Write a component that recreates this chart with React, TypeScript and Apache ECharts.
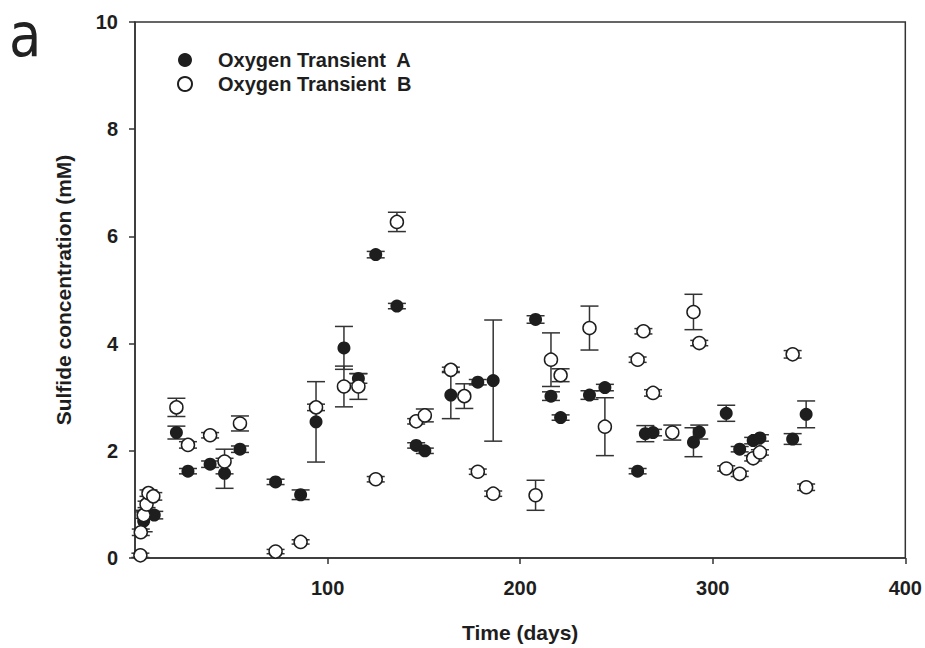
import React, { useEffect, useRef } from "react";
import * as echarts from "echarts";

// Oxygen Transient A (filled)
const daysA = [4.5, 10, 21.5, 27.5, 39, 46.5, 54.5, 73, 86, 94, 108.5, 116, 125, 136, 146, 150.5, 164, 178, 186, 208, 216, 221, 236, 244, 261, 265, 269, 290, 293, 307, 314, 321, 324.5, 341.5, 348.5];
const sulfideA = [0.69, 0.8, 2.34, 1.62, 1.75, 1.58, 2.03, 1.42, 1.18, 2.54, 3.92, 3.35, 5.66, 4.7, 2.1, 2.0, 3.04, 3.28, 3.31, 4.45, 3.02, 2.62, 3.04, 3.18, 1.62, 2.32, 2.34, 2.16, 2.35, 2.7, 2.03, 2.19, 2.24, 2.22, 2.68];
const errA = [0.2, 0.07, 0.12, 0.05, 0.06, 0.28, 0.06, 0.05, 0.09, 0.75, 0.4, 0.09, 0.06, 0.05, 0.05, 0.05, 0.44, 0.05, 1.13, 0.07, 0.08, 0.05, 0.08, 0.06, 0.05, 0.15, 0.06, 0.27, 0.13, 0.15, 0.05, 0.06, 0.06, 0.1, 0.25];

// Oxygen Transient B (open)
const daysB = [2.8, 3, 4.5, 6, 7, 9.5, 21.5, 27.5, 39, 46.5, 54.5, 73, 86, 94, 108.5, 116, 125, 136, 146, 150.5, 164, 171, 178, 186, 208, 216, 221, 236, 244, 261, 264, 269, 279, 290, 293, 307, 314, 321, 324.5, 341.5, 348.5];
const sulfideB = [0.05, 0.48, 0.8, 1.0, 1.21, 1.15, 2.81, 2.11, 2.29, 1.8, 2.51, 0.12, 0.3, 2.81, 3.2, 3.2, 1.47, 6.27, 2.55, 2.66, 3.51, 3.02, 1.61, 1.2, 1.17, 3.7, 3.41, 4.29, 2.45, 3.7, 4.23, 3.08, 2.34, 4.59, 4.01, 1.67, 1.57, 1.86, 1.97, 3.8, 1.32];
const errB = [0.04, 0.06, 0.06, 0.06, 0.06, 0.07, 0.17, 0.06, 0.05, 0.23, 0.14, 0.04, 0.04, 0.06, 0.38, 0.24, 0.05, 0.18, 0.05, 0.12, 0.05, 0.23, 0.05, 0.05, 0.28, 0.5, 0.12, 0.41, 0.54, 0.05, 0.05, 0.06, 0.14, 0.33, 0.05, 0.05, 0.05, 0.05, 0.05, 0.07, 0.06];

const xTicks = [100, 200, 300, 400];
const nameA = "Oxygen Transient  A";
const nameB = "Oxygen Transient  B";

const INK = "#1e1e1e";
const FONT = "'Liberation Sans', Arial, sans-serif";

function errorSeries(days: number[], vals: number[], errs: number[], z: number) {
  return {
    type: "custom",
    silent: true,
    z,
    data: days.map((d, i) => [d, vals[i], errs[i]]),
    encode: { x: 0, y: 1 },
    renderItem: (_params: any, api: any) => {
      const x = api.value(0);
      const y = api.value(1);
      const e = api.value(2);
      const top = api.coord([x, y + e]);
      const bot = api.coord([x, y - e]);
      const hw = 9;
      const style = { stroke: "#333", lineWidth: 1.5, fill: null };
      return {
        type: "group",
        children: [
          { type: "line", shape: { x1: top[0], y1: top[1], x2: bot[0], y2: bot[1] }, style },
          { type: "line", shape: { x1: top[0] - hw, y1: top[1], x2: top[0] + hw, y2: top[1] }, style },
          { type: "line", shape: { x1: bot[0] - hw, y1: bot[1], x2: bot[0] + hw, y2: bot[1] }, style },
        ],
      };
    },
  };
}

export default function App() {
  const ref = useRef<HTMLDivElement>(null);
  useEffect(() => {
    if (!ref.current) return;
    const chart = echarts.init(ref.current, null, { renderer: "svg" });
    chart.setOption({
      animation: false,
      backgroundColor: "#ffffff",
      grid: {
        left: 135,
        right: 18,
        top: 22,
        bottom: 89,
        show: true,
        borderColor: "#333",
        borderWidth: 1.5,
      },
      legend: {
        orient: "vertical",
        left: 172,
        top: 45,
        itemWidth: 14,
        itemHeight: 14,
        itemGap: 4,
        icon: "circle",
        data: [nameA, nameB],
        textStyle: {
          fontFamily: FONT,
          fontWeight: "bold",
          fontSize: 20,
          color: INK,
          padding: [0, 0, 0, 21],
        },
      },
      graphic: [
        {
          type: "text",
          left: 9,
          top: 5,
          scaleX: 0.88,
          style: {
            text: "a",
            fontFamily: "'DejaVu Sans', sans-serif",
            fontSize: 60,
            fill: "#222",
          },
        },
      ],
      xAxis: {
        type: "value",
        min: 0,
        max: 400,
        interval: 100,
        name: "Time (days)",
        nameLocation: "middle",
        nameGap: 64,
        nameTextStyle: { fontFamily: FONT, fontWeight: "bold", fontSize: 21, color: INK },
        axisLine: { show: true, onZero: false, lineStyle: { color: "#333", width: 1.5 } },
        axisTick: { show: true, length: 6, customValues: xTicks, lineStyle: { color: "#333", width: 1.5 } },
        axisLabel: {
          customValues: xTicks,
          margin: 20,
          fontFamily: FONT,
          fontWeight: "bold",
          fontSize: 20,
          color: INK,
        },
        splitLine: { show: false },
      },
      yAxis: {
        type: "value",
        min: 0,
        max: 10,
        interval: 2,
        name: "Sulfide concentration (mM)",
        nameLocation: "middle",
        nameGap: 61,
        nameTextStyle: { fontFamily: FONT, fontWeight: "bold", fontSize: 21, color: INK },
        axisLine: { show: true, onZero: false, lineStyle: { color: "#333", width: 1.5 } },
        axisTick: { show: true, length: 6, lineStyle: { color: "#333", width: 1.5 } },
        axisLabel: { margin: 17, fontFamily: FONT, fontWeight: "bold", fontSize: 20, color: INK },
        splitLine: { show: false },
      },
      series: [
        errorSeries(daysA, sulfideA, errA, 2),
        errorSeries(daysB, sulfideB, errB, 2),
        {
          name: nameA,
          type: "scatter",
          z: 3,
          symbol: "circle",
          symbolSize: 13,
          data: daysA.map((d, i) => [d, sulfideA[i]]),
          itemStyle: { color: INK, opacity: 1 },
        },
        {
          name: nameB,
          type: "scatter",
          z: 4,
          symbol: "circle",
          symbolSize: 13,
          data: daysB.map((d, i) => [d, sulfideB[i]]),
          itemStyle: { color: "#ffffff", borderColor: INK, borderWidth: 1.5, opacity: 1 },
        },
      ],
    });
    return () => chart.dispose();
  }, []);
  return (
    <div
      ref={ref}
      style={{ position: "absolute", left: 0, top: 0, width: 925, height: 648 }}
    />
  );
}
